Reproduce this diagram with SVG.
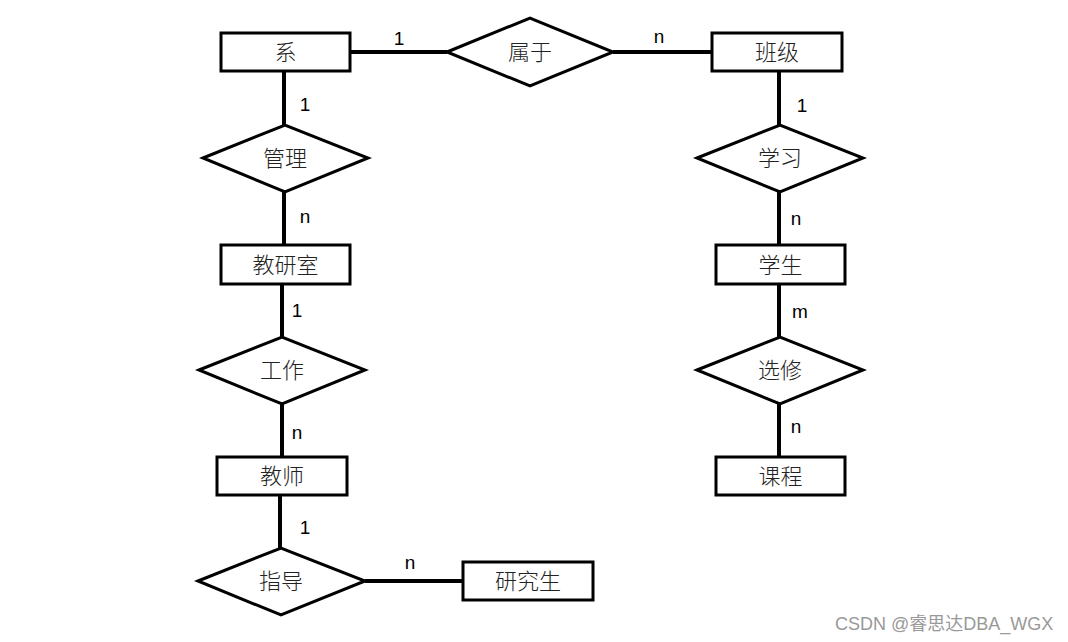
<svg xmlns="http://www.w3.org/2000/svg" width="1068" height="642" viewBox="0 0 1068 642">
<style>
.ent{fill:#fff;stroke:#000;stroke-width:3}
.rel{fill:#fff;stroke:#000;stroke-width:3;stroke-linejoin:miter}
.lnk{stroke:#000;stroke-width:4;fill:none}
.t{font-family:"Noto Sans CJK SC","Noto Sans",sans-serif;font-size:22px;font-weight:300;fill:#222;text-anchor:middle;dominant-baseline:central}
.c{font-family:"Liberation Sans",Arial,sans-serif;font-size:19px;fill:#000;text-anchor:middle;dominant-baseline:central}
.wm{font-family:"Liberation Sans","Noto Sans CJK SC",sans-serif;font-size:18px;fill:#999}
</style>
<rect width="1068" height="642" fill="#fff"/>
<g id="connectors">
<line class="lnk" x1="350" y1="52" x2="447" y2="52"/>
<line class="lnk" x1="613" y1="52" x2="712" y2="52"/>
<line class="lnk" x1="284" y1="71" x2="284" y2="125"/>
<line class="lnk" x1="284" y1="192" x2="284" y2="245"/>
<line class="lnk" x1="282" y1="284" x2="282" y2="337"/>
<line class="lnk" x1="282" y1="404" x2="282" y2="457"/>
<line class="lnk" x1="280" y1="495" x2="280" y2="548"/>
<line class="lnk" x1="365" y1="581" x2="463" y2="581"/>
<line class="lnk" x1="779" y1="71" x2="779" y2="125"/>
<line class="lnk" x1="779" y1="192" x2="779" y2="245"/>
<line class="lnk" x1="779" y1="284" x2="779" y2="337"/>
<line class="lnk" x1="779" y1="404" x2="779" y2="457"/>
<text class="c" x="399" y="38">1</text>
<text class="c" x="659" y="36">n</text>
<text class="c" x="305" y="104">1</text>
<text class="c" x="305" y="216">n</text>
<text class="c" x="297" y="310">1</text>
<text class="c" x="297" y="432">n</text>
<text class="c" x="305" y="527">1</text>
<text class="c" x="410" y="562">n</text>
<text class="c" x="802" y="105">1</text>
<text class="c" x="796" y="218">n</text>
<text class="c" x="800" y="311">m</text>
<text class="c" x="796" y="426">n</text>
</g>
<g id="xi"><rect class="ent" x="221" y="33" width="129" height="38"/><text class="t" x="285.5" y="50">系</text></g>
<g id="shuyu"><polygon class="rel" points="447,52 530,18 613,52 530,86"/><text class="t" x="530" y="50">属于</text></g>
<g id="banji"><rect class="ent" x="712" y="33" width="130" height="38"/><text class="t" x="777" y="50">班级</text></g>
<g id="guanli"><polygon class="rel" points="203,158 285,125 368,158 285,192"/><text class="t" x="285" y="156">管理</text></g>
<g id="jiaoyanshi"><rect class="ent" x="221" y="245" width="129" height="39"/><text class="t" x="285.5" y="262.5">教研室</text></g>
<g id="gongzuo"><polygon class="rel" points="199,370 282,337 365,370 282,404"/><text class="t" x="282" y="368">工作</text></g>
<g id="jiaoshi"><rect class="ent" x="217" y="457" width="130" height="38"/><text class="t" x="282" y="474">教师</text></g>
<g id="zhidao"><polygon class="rel" points="198,581 281,548 365,581 281,615"/><text class="t" x="281" y="579">指导</text></g>
<g id="yanjiusheng"><rect class="ent" x="463" y="562" width="130" height="38"/><text class="t" x="528" y="579">研究生</text></g>
<g id="xuexi"><polygon class="rel" points="697,158 780,125 863,158 780,192"/><text class="t" x="780" y="156">学习</text></g>
<g id="xuesheng"><rect class="ent" x="716" y="245" width="129" height="39"/><text class="t" x="780.5" y="262.5">学生</text></g>
<g id="xuanxiu"><polygon class="rel" points="697,370 780,337 863,370 780,404"/><text class="t" x="780" y="368">选修</text></g>
<g id="kecheng"><rect class="ent" x="716" y="457" width="129" height="38"/><text class="t" x="780.5" y="474">课程</text></g>
<text class="wm" x="835" y="630">CSDN @睿思达DBA_WGX</text>
</svg>
